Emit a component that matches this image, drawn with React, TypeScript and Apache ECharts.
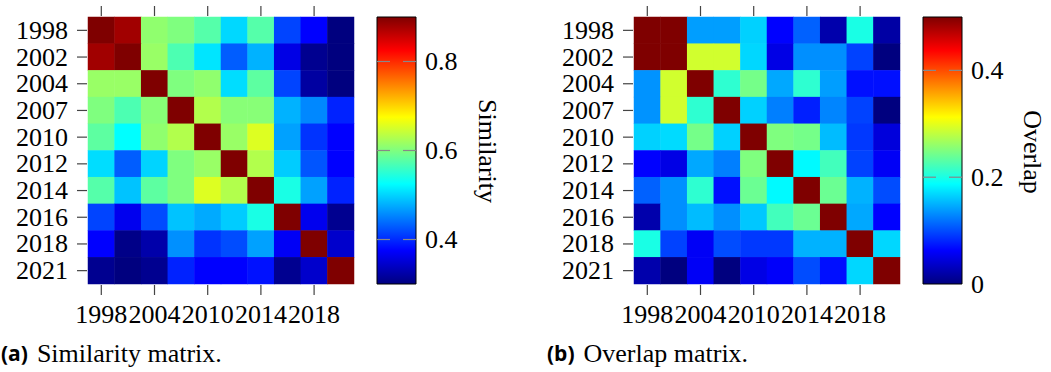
import React, { useEffect, useRef } from 'react';
import * as echarts from 'echarts';

const years = ['1998', '2002', '2004', '2007', '2010', '2012', '2014', '2016', '2018', '2021'];
const xTickYears = ['1998', '2004', '2010', '2014', '2018'];

// Similarity matrix rows (row year vs column year)
const sim1998 = [1.0, 0.88, 0.61, 0.6, 0.575, 0.502, 0.575, 0.415, 0.375, 0.3];
const sim2002 = [0.88, 1.0, 0.615, 0.57, 0.51, 0.43, 0.48, 0.36, 0.31, 0.3];
const sim2004 = [0.615, 0.615, 1.0, 0.6, 0.61, 0.505, 0.58, 0.415, 0.32, 0.3];
const sim2007 = [0.6, 0.57, 0.605, 1.0, 0.63, 0.605, 0.605, 0.48, 0.455, 0.395];
const sim2010 = [0.58, 0.525, 0.61, 0.63, 1.0, 0.615, 0.655, 0.47, 0.405, 0.375];
const sim2012 = [0.505, 0.43, 0.5, 0.6, 0.615, 1.0, 0.63, 0.495, 0.425, 0.375];
const sim2014 = [0.575, 0.49, 0.58, 0.6, 0.655, 0.63, 1.0, 0.54, 0.47, 0.395];
const sim2016 = [0.415, 0.365, 0.42, 0.49, 0.475, 0.495, 0.54, 1.0, 0.365, 0.31];
const sim2018 = [0.375, 0.305, 0.325, 0.46, 0.405, 0.42, 0.47, 0.37, 1.0, 0.345];
const sim2021 = [0.31, 0.3, 0.31, 0.395, 0.375, 0.375, 0.385, 0.31, 0.345, 1.0];

// Overlap matrix rows
const ovl1998 = [1.0, 0.55, 0.14, 0.14, 0.165, 0.063, 0.11, 0.022, 0.2, 0.018];
const ovl2002 = [0.55, 1.0, 0.29, 0.29, 0.168, 0.05, 0.133, 0.133, 0.095, 0.0];
const ovl2004 = [0.135, 0.29, 1.0, 0.21, 0.245, 0.145, 0.21, 0.14, 0.07, 0.07];
const ovl2007 = [0.135, 0.29, 0.21, 1.0, 0.165, 0.125, 0.078, 0.128, 0.095, 0.0];
const ovl2010 = [0.165, 0.17, 0.245, 0.165, 1.0, 0.25, 0.245, 0.155, 0.09, 0.045];
const ovl2012 = [0.063, 0.05, 0.145, 0.125, 0.25, 1.0, 0.185, 0.22, 0.095, 0.058];
const ovl2014 = [0.11, 0.133, 0.21, 0.07, 0.24, 0.185, 1.0, 0.24, 0.15, 0.1];
const ovl2016 = [0.022, 0.133, 0.155, 0.133, 0.16, 0.22, 0.24, 1.0, 0.145, 0.063];
const ovl2018 = [0.2, 0.095, 0.058, 0.1, 0.09, 0.09, 0.15, 0.15, 1.0, 0.168];
const ovl2021 = [0.022, 0.0, 0.058, 0.0, 0.05, 0.06, 0.1, 0.07, 0.168, 1.0];

const similarity = [sim1998, sim2002, sim2004, sim2007, sim2010, sim2012, sim2014, sim2016, sim2018, sim2021];
const overlap = [ovl1998, ovl2002, ovl2004, ovl2007, ovl2010, ovl2012, ovl2014, ovl2016, ovl2018, ovl2021];

const simRange = [0.3, 0.9];
const ovlRange = [0, 0.5];
const simTicks = [0.4, 0.6, 0.8];
const ovlTicks = [0, 0.2, 0.4];

const jet = ['#00007f', '#0000ff', '#007fff', '#00ffff', '#7fff7f', '#ffff00', '#ff7f00', '#ff0000', '#7f0000'];

const FONT = 'Liberation Serif';

function toCells(m: number[][]) {
  const out: number[][] = [];
  m.forEach((row, r) => row.forEach((v, c) => out.push([c, r, v])));
  return out;
}

export default function App() {
  const ref = useRef<HTMLDivElement>(null);
  useEffect(() => {
    if (!ref.current) return;
    const chart = echarts.init(ref.current, undefined, { renderer: 'svg' });

    const tickColor = '#444';
    const xTickIdx = xTickYears.map((y) => years.indexOf(y));
    const yTickIdx = years.map((_, i) => i);
    const last = years.length - 1;

    const heatX = (grid: number) => ({
      type: 'category', gridIndex: grid, data: years, position: 'bottom',
      axisLine: { show: false },
      axisTick: { show: false },
      axisLabel: {
        show: true, margin: 17, fontFamily: FONT, fontSize: 26, color: '#000',
        interval: (_i: number, v: string) => xTickYears.indexOf(v) >= 0,
      },
      splitLine: { show: false },
    });
    const heatY = (grid: number) => ({
      type: 'category', gridIndex: grid, data: years, inverse: true,
      axisLine: { show: false },
      axisTick: { show: false },
      axisLabel: { interval: 0, margin: 20, fontFamily: FONT, fontSize: 26, color: '#000' },
      splitLine: { show: false },
    });
    const barX = (grid: number) => ({ type: 'value', gridIndex: grid, min: 0, max: 1, show: false });
    const barY = (grid: number, range: number[], ticks: number[]) => ({
      type: 'value', gridIndex: grid, min: range[0], max: range[1], position: 'right',
      axisLine: { show: false },
      splitLine: { show: false },
      axisTick: { show: false },
      axisLabel: {
        show: true, customValues: ticks, margin: 9, fontFamily: FONT, fontSize: 26, color: '#000',
        formatter: (v: number) => (Math.abs(v) < 1e-9 ? '0' : String(Math.round(v * 10) / 10)),
      },
    });
    const gradientStops = jet.map((c, i) => ({ offset: i / (jet.length - 1), color: c }));
    const barSeries = (xIdx: number, yIdx: number, range: number[], ticks: number[]) => ({
      type: 'custom', xAxisIndex: xIdx, yAxisIndex: yIdx, z: 2, silent: true, clip: false,
      data: [[0, range[0]]],
      renderItem: (_p: any, api: any) => {
        const p0 = api.coord([0, range[1]]);
        const p1 = api.coord([1, range[0]]);
        const children: any[] = [
          {
            type: 'rect',
            shape: { x: p0[0], y: p0[1], width: p1[0] - p0[0], height: p1[1] - p0[1] },
            style: { fill: new echarts.graphic.LinearGradient(0, 1, 0, 0, gradientStops), stroke: '#000', lineWidth: 1 },
          },
        ];
        ticks.forEach((t) => {
          const y = api.coord([0, t])[1];
          if (Math.abs(y - p1[1]) < 1) return;
          children.push({ type: 'line', shape: { x1: p0[0], y1: y, x2: p0[0] + 13, y2: y }, style: { stroke: '#888', lineWidth: 1.2, fill: null } });
          children.push({ type: 'line', shape: { x1: p1[0] - 13, y1: y, x2: p1[0], y2: y }, style: { stroke: '#888', lineWidth: 1.2, fill: null } });
        });
        return { type: 'group', children };
      },
    });
    const mkRect = (x: number, y: number, w: number, h: number) => ({
      type: 'rect', shape: { x, y, width: w, height: h }, style: { fill: tickColor, stroke: null },
    });
    const tickSeries = (xIdx: number, yIdx: number) => ({
      type: 'custom', xAxisIndex: xIdx, yAxisIndex: yIdx, z: 10, silent: true, clip: false,
      data: [[0, 0]],
      renderItem: (_params: any, api: any) => {
        const size = api.size([1, 1]);
        const cellW = Math.abs(size[0]);
        const cellH = Math.abs(size[1]);
        const first = api.coord([0, 0]);
        const lastPt = api.coord([last, last]);
        const top = Math.min(first[1], lastPt[1]) - cellH / 2;
        const bottom = Math.max(first[1], lastPt[1]) + cellH / 2;
        const left = Math.min(first[0], lastPt[0]) - cellW / 2;
        const children: any[] = [];
        xTickIdx.forEach((i) => {
          const x = api.coord([i, 0])[0];
          children.push(mkRect(x - 0.6, top - 11, 1.2, 10));
          children.push(mkRect(x - 0.6, bottom + 1, 1.2, 10));
        });
        yTickIdx.forEach((i) => {
          const y = api.coord([0, i])[1];
          children.push(mkRect(left - 11, y - 0.6, 10, 1.2));
        });
        return { type: 'group', children };
      },
    });

    chart.setOption({
      animation: false,
      grid: [
        { left: 88, top: 17, width: 266, height: 267 },
        { left: 377, top: 17, width: 39, height: 267 },
        { left: 634, top: 17, width: 266, height: 267 },
        { left: 923, top: 17, width: 39, height: 267 },
      ],
      xAxis: [heatX(0), barX(1), heatX(2), barX(3)],
      yAxis: [heatY(0), barY(1, simRange, simTicks), heatY(2), barY(3, ovlRange, ovlTicks)],
      visualMap: [
        { type: 'continuous', show: false, min: simRange[0], max: simRange[1], seriesIndex: 0, inRange: { color: jet } },
        { type: 'continuous', show: false, min: ovlRange[0], max: ovlRange[1], seriesIndex: 1, inRange: { color: jet } },
      ],
      series: [
        { type: 'heatmap', xAxisIndex: 0, yAxisIndex: 0, data: toCells(similarity), emphasis: { disabled: true } },
        { type: 'heatmap', xAxisIndex: 2, yAxisIndex: 2, data: toCells(overlap), emphasis: { disabled: true } },
        barSeries(1, 1, simRange, simTicks),
        barSeries(3, 3, ovlRange, ovlTicks),
        tickSeries(0, 0),
        tickSeries(2, 2),
      ],
      graphic: [
        {
          type: 'text', x: 487, y: 151, rotation: -Math.PI / 2,
          style: { text: 'Similarity', fontFamily: FONT, fontSize: 26, fill: '#000', align: 'center', verticalAlign: 'middle' },
        },
        {
          type: 'text', x: 1032, y: 152, rotation: -Math.PI / 2,
          style: { text: 'Overlap', fontFamily: FONT, fontSize: 26, fill: '#000', align: 'center', verticalAlign: 'middle' },
        },
        {
          type: 'text', x: 1, y: 353,
          style: {
            text: '{l|(a)}{s| }{t|Similarity matrix.}', verticalAlign: 'middle',
            rich: {
              l: { fontFamily: 'Open Sans', fontWeight: 'bold', fontSize: 21, fill: '#000' },
              s: { width: 9 },
              t: { fontFamily: FONT, fontSize: 26, fill: '#000' },
            },
          },
        },
        {
          type: 'text', x: 547, y: 353,
          style: {
            text: '{l|(b)}{s| }{t|Overlap matrix.}', verticalAlign: 'middle',
            rich: {
              l: { fontFamily: 'Open Sans', fontWeight: 'bold', fontSize: 21, fill: '#000' },
              s: { width: 9 },
              t: { fontFamily: FONT, fontSize: 26, fill: '#000' },
            },
          },
        },
      ],
    });
    return () => chart.dispose();
  }, []);
  return <div ref={ref} style={{ position: 'absolute', left: 0, top: 0, width: 1051, height: 372, background: '#fff' }} />;
}
